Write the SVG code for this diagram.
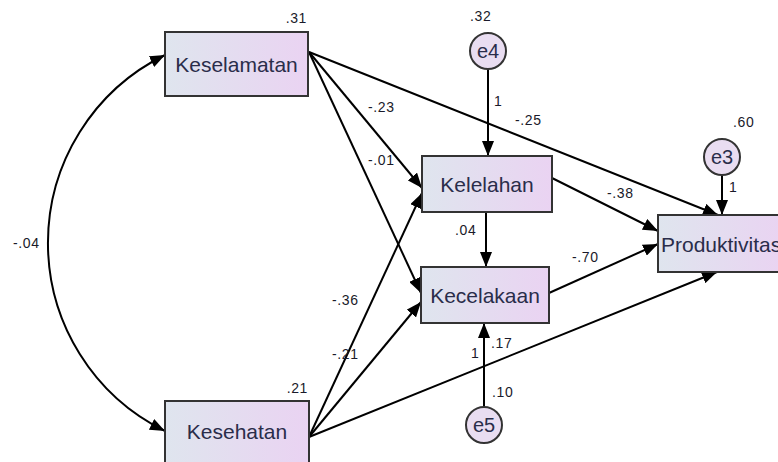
<svg xmlns="http://www.w3.org/2000/svg" width="778" height="462" viewBox="0 0 778 462">
<defs>
<linearGradient id="g" x1="0" y1="0" x2="1" y2="0">
<stop offset="0" stop-color="#dfe5ee"/>
<stop offset="1" stop-color="#ead3f2"/>
</linearGradient>
<marker id="a" markerUnits="userSpaceOnUse" markerWidth="16" markerHeight="12" refX="15" refY="6" orient="auto-start-reverse">
<path d="M0,0 L15,6 L0,12 z" fill="#000"/>
</marker>
<style>
.box{fill:url(#g);stroke:#333;stroke-width:2}
.err{fill:#e9ddf1;stroke:#333;stroke-width:2}
.nt{font-family:"Liberation Sans",Arial,sans-serif;font-size:21px;fill:#2a2d4a;text-anchor:middle}
.ns{font-family:"Liberation Sans",Arial,sans-serif;font-size:21px;fill:#2a2d4a;text-anchor:start}
.et{font-family:"Liberation Sans",Arial,sans-serif;font-size:20px;fill:#2a2d4a;text-anchor:middle}
.lb{font-family:"Liberation Sans",Arial,sans-serif;font-size:14px;letter-spacing:0.6px;fill:#1a1a2a}
.c{stroke:#000;stroke-width:2;fill:none;marker-end:url(#a)}
</style>
</defs>
<g id="connectors">
<path class="c" d="M165,55 A209.5,209.5 0 0 0 165,431" style="marker-start:url(#a)"/>
<line class="c" x1="309" y1="52" x2="422" y2="188"/>
<line class="c" x1="309" y1="52" x2="421" y2="293"/>
<line class="c" x1="309" y1="52" x2="718" y2="215"/>
<line class="c" x1="309" y1="437" x2="422" y2="193"/>
<line class="c" x1="309" y1="437" x2="421" y2="302"/>
<line class="c" x1="309" y1="437" x2="717" y2="272"/>
<line class="c" x1="552" y1="178" x2="658" y2="231"/>
<line class="c" x1="486" y1="212" x2="486" y2="267"/>
<line class="c" x1="549" y1="293" x2="658" y2="244"/>
<line class="c" x1="488" y1="70" x2="488" y2="156"/>
<line class="c" x1="722" y1="176" x2="722" y2="215"/>
<line class="c" x1="484" y1="406" x2="484" y2="323"/>
</g>
<g id="Keselamatan">
<rect class="box" x="165" y="32" width="143" height="64"/>
<text class="nt" x="236.5" y="72">Keselamatan</text>
<text class="lb" x="307" y="23" text-anchor="end">.31</text>
</g>
<g id="Kesehatan">
<rect class="box" x="165" y="401" width="144" height="64"/>
<text class="nt" x="237" y="439">Kesehatan</text>
<text class="lb" x="308" y="393" text-anchor="end">.21</text>
</g>
<g id="Kelelahan">
<rect class="box" x="422" y="156" width="130" height="56"/>
<text class="nt" x="487" y="192">Kelelahan</text>
</g>
<g id="Kecelakaan">
<rect class="box" x="421" y="267" width="128" height="56"/>
<text class="nt" x="485" y="303">Kecelakaan</text>
</g>
<g id="Produktivitas">
<rect class="box" x="658" y="215" width="128" height="57"/>
<text class="ns" x="661" y="252">Produktivitas</text>
</g>
<g id="e4">
<circle class="err" cx="488" cy="51" r="18"/>
<text class="et" x="488" y="58">e4</text>
<text class="lb" x="470" y="21">.32</text>
</g>
<g id="e3">
<circle class="err" cx="722" cy="157" r="18"/>
<text class="et" x="722" y="164">e3</text>
<text class="lb" x="733" y="127">.60</text>
</g>
<g id="e5">
<circle class="err" cx="484" cy="425" r="18"/>
<text class="et" x="484" y="432">e5</text>
</g>
<g id="labels">
<text class="lb" x="13" y="248">-.04</text>
<text class="lb" x="368" y="112">-.23</text>
<text class="lb" x="368" y="165">-.01</text>
<text class="lb" x="515" y="125">-.25</text>
<text class="lb" x="494" y="106">1</text>
<text class="lb" x="607" y="198">-.38</text>
<text class="lb" x="455" y="235">.04</text>
<text class="lb" x="572" y="262">-.70</text>
<text class="lb" x="729" y="192">1</text>
<text class="lb" x="332" y="305">-.36</text>
<text class="lb" x="332" y="359">-.21</text>
<text class="lb" x="471" y="358">1</text>
<text class="lb" x="491" y="348">.17</text>
<text class="lb" x="492" y="397">.10</text>
</g>
</svg>
